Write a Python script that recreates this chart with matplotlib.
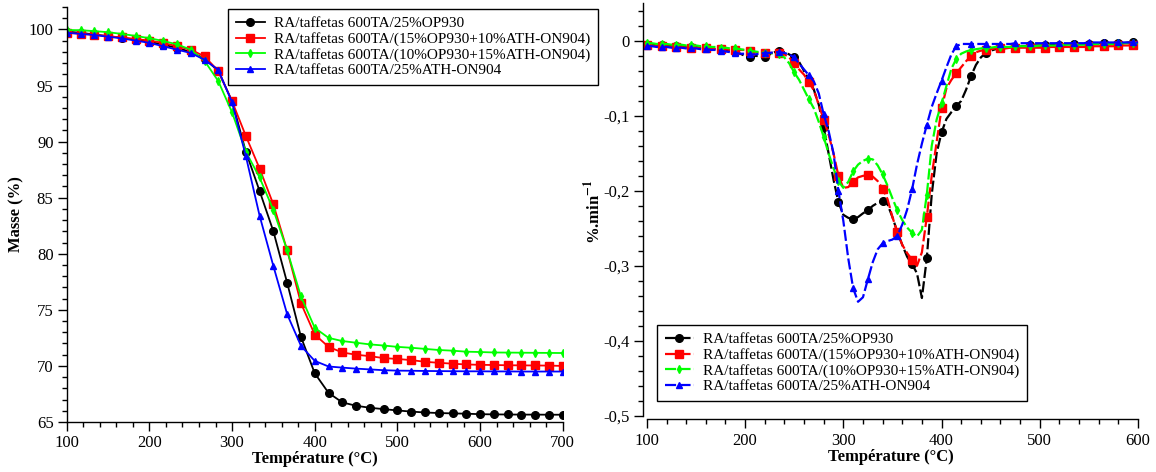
import numpy as np
import matplotlib
matplotlib.use("Agg")
import matplotlib.pyplot as plt
from matplotlib.ticker import MultipleLocator, FuncFormatter

plt.rcParams['font.family'] = ['Liberation Serif', 'DejaVu Serif']
plt.rcParams['mathtext.fontset'] = 'stix'

labels = ['RA/taffetas 600TA/25%OP930',
          'RA/taffetas 600TA/(15%OP930+10%ATH-ON904)',
          'RA/taffetas 600TA/(10%OP930+15%ATH-ON904)',
          'RA/taffetas 600TA/25%ATH-ON904']
colors = ['#000000', '#ff0000', '#00ff00', '#0000ff']
markers = ['o', 's', 'd', '^']
msizes = [5.5, 5.5, 4, 4.5]

# TGA (mass %) vs temperature
tga_temp = [100, 116.7, 133.3, 150, 166.7, 183.3, 200, 216.7, 233.3, 250,
            266.7, 283.3, 300, 316.7, 333.3, 350, 366.7, 383.3, 400, 416.7,
            433.3, 450, 466.7, 483.3, 500, 516.7, 533.3, 550, 566.7, 583.3,
            600, 616.7, 633.3, 650, 666.7, 683.3, 700]
tga_black = [99.8, 99.7, 99.55, 99.4, 99.25, 99.1, 98.9, 98.65, 98.35, 98.0,
             97.4, 96.3, 93.6, 89.1, 85.6, 82.0, 77.4, 72.6, 69.35, 67.6,
             66.75, 66.45, 66.27, 66.15, 66.03, 65.93, 65.85, 65.8, 65.77, 65.74,
             65.7, 65.68, 65.67, 65.66, 65.66, 65.65, 65.65]
tga_red = [99.7, 99.62, 99.52, 99.4, 99.28, 99.15, 99.0, 98.8, 98.5, 98.2,
           97.6, 96.3, 93.6, 90.5, 87.6, 84.4, 80.3, 75.6, 72.8, 71.7,
           71.2, 71.0, 70.87, 70.7, 70.62, 70.52, 70.37, 70.28, 70.2, 70.13,
           70.1, 70.08, 70.06, 70.05, 70.04, 70.03, 70.0]
tga_green = [99.95, 99.93, 99.85, 99.75, 99.6, 99.42, 99.22, 98.97, 98.67, 98.2,
             97.2, 95.4, 92.6, 89.1, 86.8, 83.9, 80.3, 76.2, 73.4, 72.5,
             72.22, 72.07, 71.92, 71.82, 71.7, 71.62, 71.52, 71.42, 71.36, 71.27,
             71.24, 71.2, 71.19, 71.18, 71.17, 71.16, 71.15]
tga_blue = [99.7, 99.6, 99.5, 99.35, 99.2, 99.0, 98.8, 98.5, 98.2, 97.9,
            97.3, 96.4, 93.5, 88.7, 83.4, 78.9, 74.6, 71.8, 70.45, 69.95,
            69.85, 69.76, 69.69, 69.62, 69.58, 69.57, 69.55, 69.54, 69.53, 69.52,
            69.52, 69.51, 69.51, 69.5, 69.5, 69.5, 69.5]

# DTG (%/min) vs temperature, 100..600 every 5 degC
dtg_temp = list(range(100, 605, 5))
dtg_black = [-0.005, -0.005, -0.006, -0.006, -0.006, -0.007, -0.007, -0.007, -0.008, -0.008,
             -0.008, -0.009, -0.009, -0.010, -0.011, -0.012, -0.013, -0.014, -0.015, -0.017,
             -0.020, -0.021, -0.020, -0.020, -0.022, -0.018, -0.015, -0.013, -0.015, -0.018,
             -0.022, -0.028, -0.040, -0.052, -0.065, -0.085, -0.115, -0.150, -0.185, -0.215,
             -0.232, -0.236, -0.238, -0.235, -0.230, -0.226, -0.220, -0.216, -0.214, -0.218,
             -0.235, -0.255, -0.272, -0.288, -0.298, -0.310, -0.343, -0.290, -0.205, -0.150,
             -0.122, -0.104, -0.095, -0.087, -0.080, -0.065, -0.047, -0.032, -0.022, -0.016,
             -0.013, -0.011, -0.010, -0.009, -0.008, -0.008, -0.007, -0.007, -0.006, -0.006,
             -0.006, -0.006, -0.005, -0.005, -0.005, -0.005, -0.004, -0.004, -0.004, -0.004,
             -0.004, -0.004, -0.003, -0.003, -0.003, -0.003, -0.003, -0.003, -0.002, -0.002,
             -0.002]
dtg_red = [-0.006, -0.006, -0.007, -0.007, -0.007, -0.008, -0.008, -0.008, -0.009, -0.009,
           -0.009, -0.010, -0.010, -0.010, -0.011, -0.011, -0.011, -0.012, -0.012, -0.012,
           -0.012, -0.013, -0.015, -0.016, -0.016, -0.016, -0.016, -0.016, -0.018, -0.022,
           -0.030, -0.038, -0.045, -0.055, -0.066, -0.085, -0.105, -0.125, -0.150, -0.180,
           -0.196, -0.195, -0.188, -0.182, -0.180, -0.179, -0.181, -0.187, -0.197, -0.211,
           -0.235, -0.255, -0.272, -0.283, -0.292, -0.300, -0.282, -0.235, -0.180, -0.135,
           -0.090, -0.063, -0.052, -0.043, -0.035, -0.027, -0.020, -0.015, -0.013, -0.012,
           -0.011, -0.010, -0.010, -0.010, -0.009, -0.009, -0.009, -0.009, -0.009, -0.009,
           -0.009, -0.009, -0.008, -0.008, -0.008, -0.008, -0.008, -0.008, -0.008, -0.008,
           -0.007, -0.007, -0.007, -0.007, -0.007, -0.007, -0.006, -0.006, -0.006, -0.005,
           -0.005]
dtg_green = [-0.003, -0.003, -0.004, -0.004, -0.004, -0.005, -0.005, -0.005, -0.006, -0.006,
             -0.006, -0.007, -0.007, -0.008, -0.008, -0.009, -0.009, -0.010, -0.010, -0.011,
             -0.012, -0.013, -0.014, -0.015, -0.016, -0.016, -0.017, -0.018, -0.022, -0.030,
             -0.042, -0.052, -0.065, -0.078, -0.090, -0.108, -0.128, -0.150, -0.170, -0.187,
             -0.196, -0.188, -0.174, -0.165, -0.160, -0.157, -0.158, -0.166, -0.178, -0.193,
             -0.210, -0.226, -0.239, -0.249, -0.256, -0.261, -0.252, -0.205, -0.140, -0.105,
             -0.083, -0.060, -0.037, -0.024, -0.017, -0.014, -0.012, -0.011, -0.010, -0.009,
             -0.009, -0.008, -0.008, -0.008, -0.008, -0.007, -0.007, -0.007, -0.007, -0.007,
             -0.006, -0.006, -0.006, -0.006, -0.006, -0.005, -0.005, -0.005, -0.005, -0.005,
             -0.005, -0.004, -0.004, -0.004, -0.004, -0.004, -0.003, -0.003, -0.003, -0.003,
             -0.003]
dtg_blue = [-0.007, -0.007, -0.008, -0.008, -0.008, -0.009, -0.009, -0.009, -0.010, -0.010,
            -0.010, -0.011, -0.011, -0.012, -0.012, -0.013, -0.014, -0.015, -0.016, -0.017,
            -0.017, -0.018, -0.018, -0.017, -0.016, -0.016, -0.015, -0.015, -0.016, -0.018,
            -0.022, -0.030, -0.038, -0.046, -0.054, -0.070, -0.098, -0.120, -0.150, -0.200,
            -0.240, -0.290, -0.330, -0.348, -0.342, -0.318, -0.295, -0.278, -0.270, -0.267,
            -0.265, -0.260, -0.245, -0.225, -0.198, -0.165, -0.137, -0.112, -0.088, -0.070,
            -0.053, -0.035, -0.018, -0.007, -0.004, -0.004, -0.004, -0.004, -0.004, -0.004,
            -0.004, -0.004, -0.004, -0.004, -0.004, -0.003, -0.003, -0.003, -0.003, -0.003,
            -0.003, -0.003, -0.003, -0.003, -0.003, -0.003, -0.003, -0.003, -0.003, -0.003,
            -0.002, -0.002, -0.002, -0.002, -0.002, -0.002, -0.002, -0.002, -0.002, -0.002,
            -0.002]

tga = [tga_black, tga_red, tga_green, tga_blue]
dtg = [dtg_black, dtg_red, dtg_green, dtg_blue]

fig = plt.figure(figsize=(11.56, 4.72), dpi=100)
ax1 = fig.add_axes([0.0577, 0.1059, 0.4291, 0.8793])
ax2 = fig.add_axes([0.5562, 0.1114, 0.4282, 0.8812])


def style_axis(ax):
    ax.spines['top'].set_visible(False)
    ax.spines['right'].set_visible(False)
    for s in ['left', 'bottom']:
        ax.spines[s].set_linewidth(1.0)
    ax.tick_params(which='major', direction='out', length=6.5, width=1.0,
                   labelsize=12, pad=3)
    ax.tick_params(which='minor', direction='out', length=3.5, width=1.0)


# left panel: TGA
for i in range(4):
    ax1.plot(tga_temp, tga[i], color=colors[i], marker=markers[i],
             ms=msizes[i], lw=1.3, label=labels[i])
ax1.set_xlim(100, 700)
ax1.set_ylim(65, 102)
ax1.xaxis.set_major_locator(MultipleLocator(100))
ax1.xaxis.set_minor_locator(MultipleLocator(20))
ax1.yaxis.set_major_locator(MultipleLocator(5))
ax1.yaxis.set_minor_locator(MultipleLocator(1))
style_axis(ax1)
ax1.set_xlabel('Température (°C)', fontsize=12, fontweight='bold', labelpad=0)
ax1.set_ylabel('Masse (%)', fontsize=12, fontweight='bold', labelpad=3)
leg1 = ax1.legend(loc='upper left', bbox_to_anchor=(0.1972, 0.981),
                  bbox_transform=fig.transFigure, borderaxespad=0,
                  fontsize=11, fancybox=False, edgecolor='black',
                  framealpha=1, labelspacing=0.12, handlelength=1.9,
                  handletextpad=0.6, borderpad=0.5)
leg1.get_frame().set_linewidth(1.0)

# right panel: DTG
for i in range(4):
    ax2.plot(dtg_temp, dtg[i], color=colors[i], marker=markers[i],
             ms=msizes[i], lw=1.6, ls=(0, (5, 1.5)), markevery=3,
             label=labels[i])
ax2.set_xlim(96, 600)
ax2.set_ylim(-0.505, 0.05)
ax2.spines['bottom'].set_bounds(100, 600)
ax2.spines['left'].set_bounds(-0.5, 0.05)
ax2.xaxis.set_major_locator(MultipleLocator(100))
ax2.xaxis.set_minor_locator(MultipleLocator(20))
ax2.yaxis.set_major_locator(MultipleLocator(0.1))
ax2.yaxis.set_minor_locator(MultipleLocator(0.02))
ax2.yaxis.set_major_formatter(FuncFormatter(
    lambda v, p: '0' if abs(v) < 1e-9 else ('%.1f' % v).replace('.', ',')))
style_axis(ax2)
ax2.set_xlabel('Température (°C)', fontsize=12, fontweight='bold', labelpad=0)
ax2.set_ylabel(r'%.min$^{\mathbf{-1}}$', fontsize=12, fontweight='bold',
               labelpad=0)
leg2 = ax2.legend(loc='upper left', bbox_to_anchor=(0.5683, 0.3114),
                  bbox_transform=fig.transFigure, borderaxespad=0,
                  fontsize=11, fancybox=False, edgecolor='black',
                  framealpha=1, labelspacing=0.12, handlelength=1.9,
                  handletextpad=0.6, borderpad=0.5)
leg2.get_frame().set_linewidth(1.0)

fig.savefig('out.png', dpi=100)
